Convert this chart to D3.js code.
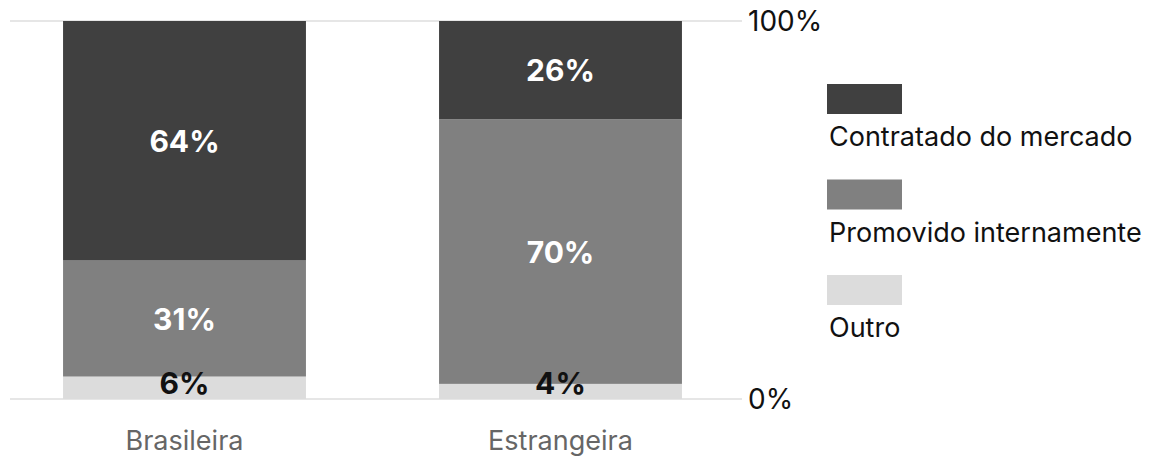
<!DOCTYPE html>
<html>
<head>
<meta charset="utf-8">
<title></title>
<style>
  body { margin: 0; background: #fff; font-family: "Inter", "Noto Sans", sans-serif; }
  svg { display: block; }
</style>
<script src="https://d3js.org/d3.v7.min.js"></script>
</head>
<body>
<script>
var categories = ["Brasileira", "Estrangeira"]
var series = ["Outro", "Promovido internamente", "Contratado do mercado"]
var outro = [6, 4]
var promovido = [31, 70]
var contratado = [64, 26]
var yTicks = [0, 1]

var colors = { "Contratado do mercado": "#404040", "Promovido internamente": "#808080", "Outro": "#dcdcdc" }
var labelColors = { "Contratado do mercado": "#fff", "Promovido internamente": "#fff", "Outro": "#111" }

var width = 1149, height = 457

var svg = d3.select("body").append("svg")
  .attr("width", width)
  .attr("height", height)

var rows = categories.map(function(c, i) {
  return { cat: c, "Outro": outro[i], "Promovido internamente": promovido[i], "Contratado do mercado": contratado[i] }
})

var stacked = d3.stack().keys(series).offset(d3.stackOffsetExpand)(rows)

var x = d3.scaleBand()
  .domain(categories)
  .range([-3.5, 748.5])
  .paddingInner(0.354)
  .paddingOuter(0.177)

var y = d3.scaleLinear().domain([0, 1]).range([399, 21])

// grid lines
svg.append("g").selectAll("line")
  .data(yTicks)
  .join("line")
  .attr("x1", 10).attr("x2", 742)
  .attr("y1", function(d) { return y(d) })
  .attr("y2", function(d) { return y(d) })
  .attr("stroke", "#e6e6e6")
  .attr("stroke-width", 2)

// bars
var layer = svg.append("g").selectAll("g")
  .data(stacked)
  .join("g")
  .attr("fill", function(d) { return colors[d.key] })

layer.selectAll("rect")
  .data(function(d) { return d })
  .join("rect")
  .attr("x", function(d) { return x(d.data.cat) })
  .attr("width", x.bandwidth())
  .attr("y", function(d) { return y(d[1]) })
  .attr("height", function(d) { return y(d[0]) - y(d[1]) })

// values in the bars
svg.append("g").selectAll("g")
  .data(stacked)
  .join("g")
  .attr("fill", function(d) { return labelColors[d.key] })
  .each(function(s) {
    d3.select(this).selectAll("text")
      .data(s)
      .join("text")
      .attr("x", function(d) { return x(d.data.cat) + x.bandwidth() / 2 })
      .attr("y", function(d) {
        var mid = (y(d[0]) + y(d[1])) / 2 + 11
        return Math.min(mid, y(0) - 5)
      })
      .attr("text-anchor", "middle")
      .attr("font-size", "30px")
      .attr("font-weight", "700")
      .text(function(d) { return d.data[s.key] + "%" })
  })

// right axis labels
svg.append("g").selectAll("text")
  .data(yTicks)
  .join("text")
  .attr("x", 748)
  .attr("y", function(d) { return y(d) + 10 })
  .attr("font-size", "28px")
  .attr("fill", "#111")
  .text(function(d) { return d3.format(".0%")(d) })

// category labels
svg.append("g").selectAll("text")
  .data(categories)
  .join("text")
  .attr("x", function(d) { return x(d) + x.bandwidth() / 2 })
  .attr("y", 450)
  .attr("text-anchor", "middle")
  .attr("font-size", "27px")
  .attr("fill", "#666")
  .text(function(d) { return d })

// legend
var legend = svg.append("g").attr("transform", "translate(827,84)")
  .selectAll("g")
  .data(series.slice().reverse())
  .join("g")
  .attr("transform", function(d, i) { return "translate(0," + (i * 95.5) + ")" })

legend.append("rect")
  .attr("width", 75).attr("height", 30)
  .attr("fill", function(d) { return colors[d] })

legend.append("text")
  .attr("x", 2)
  .attr("y", 62)
  .attr("font-size", "27px")
  .attr("fill", "#111")
  .text(function(d) { return d })
</script>
</body>
</html>
